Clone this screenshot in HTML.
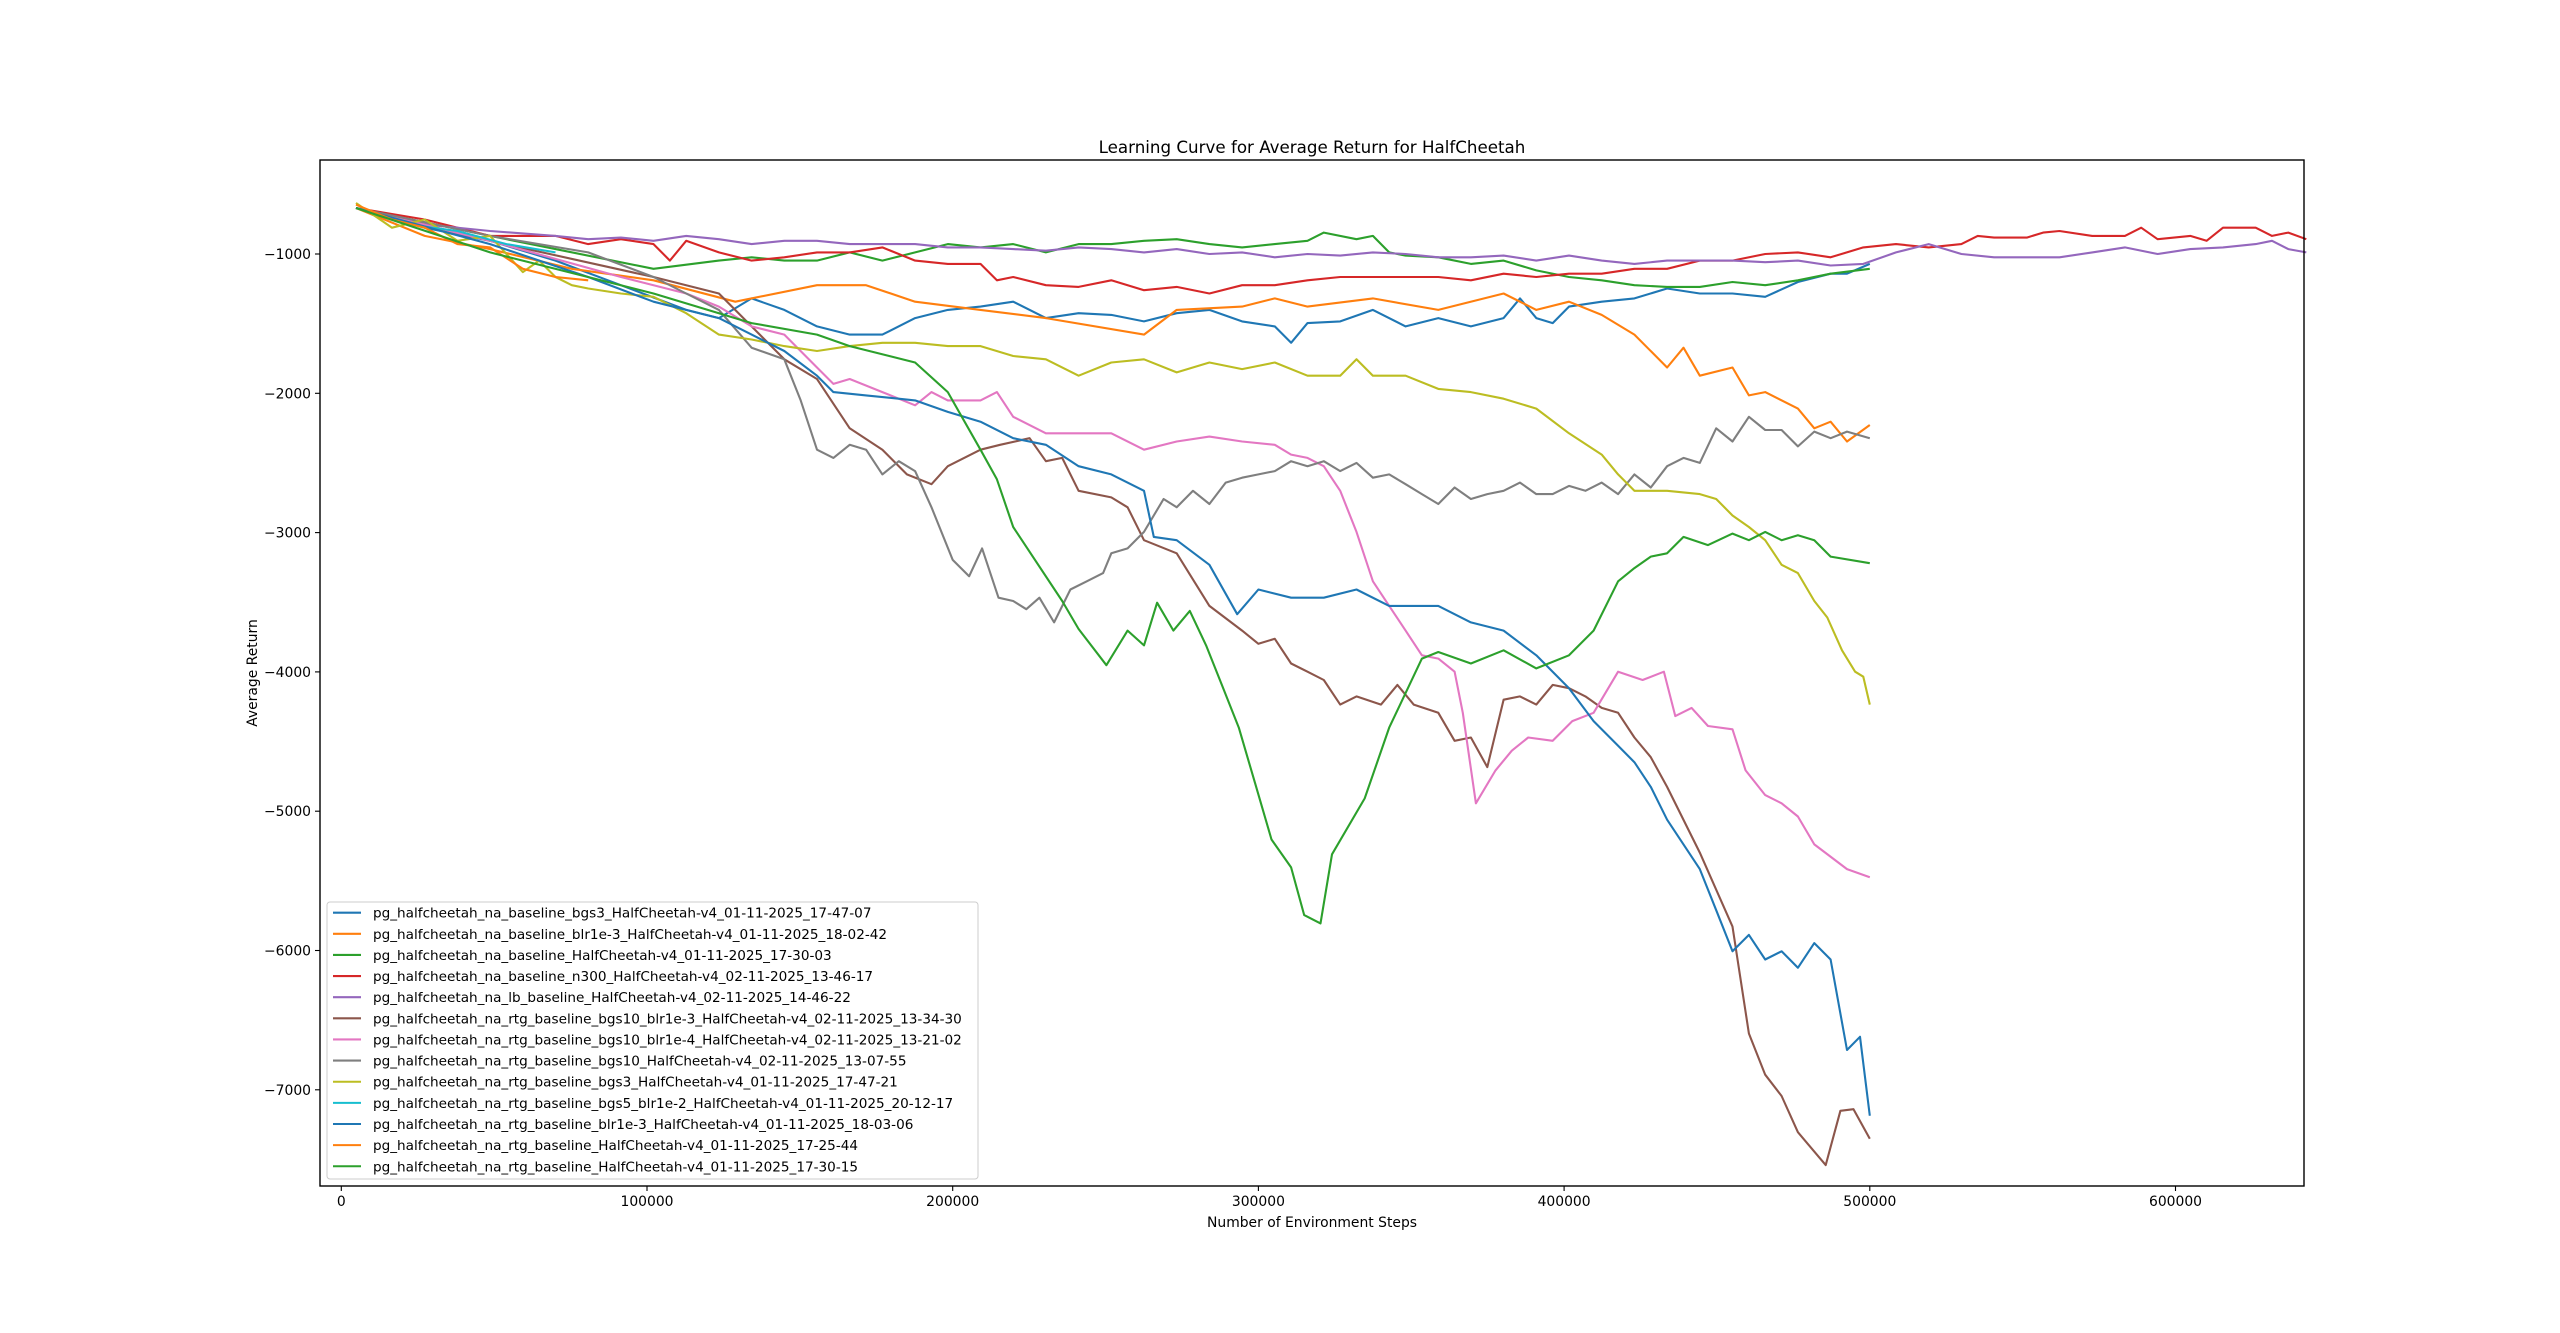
<!DOCTYPE html>
<html><head><meta charset="utf-8">
<style>
html,body{margin:0;padding:0;background:#fff;}
svg{display:block;}
text{font-family:"DejaVu Sans","Liberation Sans",sans-serif;fill:#000;}
</style></head>
<body>
<svg id="s" width="2560" height="1333" xmlns="http://www.w3.org/2000/svg">
<rect width="2560" height="1333" fill="#fff"/>
<g id="lines" fill="none" stroke-width="2.1" stroke-linejoin="round"></g>
<rect x="320" y="160" width="1984" height="1026" fill="none" stroke="#000" stroke-width="1.4"/>
<g id="ticks" stroke="#000" stroke-width="1.1"></g>
<g id="ticklabels" font-size="13.9"></g>
<text x="1312" y="153" font-size="16.7" text-anchor="middle">Learning Curve for Average Return for HalfCheetah</text>
<text x="1312" y="1227" font-size="13.9" text-anchor="middle">Number of Environment Steps</text>
<text transform="translate(257,673) rotate(-90)" font-size="13.9" text-anchor="middle">Average Return</text>
<g id="legend"></g>
</svg>
<script>
var NS="http://www.w3.org/2000/svg";
function X(dx){return 341.3+(dx-209)*1.6348;}
function Y(dy){return 254+(dy-156)*1.6446;}
function el(t,a,p){var e=document.createElementNS(NS,t);for(var k in a)e.setAttribute(k,a[k]);p.appendChild(e);return e;}
var S=[
["#1f77b4",[[218,128],[260,140],[300,148],[340,160],[380,175],[420,190],[440,195],[460,183],[480,190],[500,200],[520,205],[540,205],[560,195],[580,190],[600,188],[620,185],[640,195],[660,192],[680,193],[700,197],[720,192],[740,190],[760,197],[780,200],[790,210],[800,198],[820,197],[840,190],[860,200],[880,195],[900,200],[920,195],[930,183],[940,195],[950,198],[960,188],[980,185],[1000,183],[1020,177],[1040,180],[1060,180],[1080,182],[1100,173],[1120,168],[1130,168],[1144,162]]],
["#ff7f0e",[[218,128],[260,145],[300,153],[350,165],[400,172],[450,185],[500,175],[530,175],[560,185],[600,190],[640,195],[700,205],[720,190],[760,188],[780,183],[800,188],[840,183],[880,190],[920,180],[940,190],[960,185],[980,193],[1000,205],[1020,225],[1030,213],[1040,230],[1060,225],[1070,242],[1080,240],[1100,250],[1110,262],[1120,258],[1130,270],[1144,260]]],
["#2ca02c",[[218,128],[300,145],[400,165],[440,160],[460,158],[480,160],[500,160],[520,155],[540,160],[560,155],[580,150],[600,152],[620,150],[640,155],[660,150],[680,150],[700,148],[720,147],[740,150],[760,152],[780,150],[800,148],[810,143],[830,147],[840,145],[850,155],[860,157],[880,158],[900,162],[920,160],[940,166],[960,170],[980,172],[1000,175],[1020,176],[1040,176],[1060,173],[1080,175],[1100,172],[1120,168],[1144,165]]],
["#d62728",[[218,128],[260,135],[300,145],[340,145],[360,150],[380,147],[400,150],[410,160],[420,148],[440,155],[460,160],[480,158],[500,155],[520,155],[540,152],[560,160],[580,162],[600,162],[610,172],[620,170],[640,175],[660,176],[680,172],[700,178],[720,176],[740,180],[760,175],[780,175],[800,172],[820,170],[840,170],[860,170],[880,170],[900,172],[920,168],[940,170],[960,168],[980,168],[1000,165],[1020,165],[1040,160],[1060,160],[1080,156],[1100,155],[1120,158],[1140,152],[1160,150],[1180,152],[1200,150],[1210,145],[1220,146],[1240,146],[1250,143],[1260,142],[1280,145],[1300,145],[1310,140],[1320,147],[1340,145],[1350,148],[1360,140],[1380,140],[1390,145],[1400,143],[1411,147]]],
["#9467bd",[[218,128],[260,138],[300,142],[340,145],[360,147],[380,146],[400,148],[420,145],[440,147],[460,150],[480,148],[500,148],[520,150],[540,150],[560,150],[580,152],[600,152],[620,153],[640,154],[660,152],[680,153],[700,155],[720,153],[740,156],[760,155],[780,158],[800,156],[820,157],[840,155],[860,156],[880,158],[900,158],[920,157],[940,160],[960,157],[980,160],[1000,162],[1020,160],[1040,160],[1060,160],[1080,161],[1100,160],[1120,163],[1140,162],[1160,155],[1180,150],[1200,156],[1220,158],[1240,158],[1260,158],[1280,155],[1300,152],[1320,156],[1340,153],[1360,152],[1380,150],[1390,148],[1400,153],[1411,155]]],
["#8c564b",[[218,128],[300,148],[400,170],[440,180],[460,200],[480,220],[500,232],[520,262],[540,275],[555,290],[570,296],[580,285],[600,275],[612,272],[630,268],[640,282],[650,280],[660,300],[680,304],[690,310],[700,330],[720,338],[740,370],[760,385],[770,393],[780,390],[790,405],[800,410],[810,415],[820,430],[830,425],[845,430],[855,418],[865,430],[880,435],[890,452],[900,450],[910,468],[920,427],[930,425],[940,430],[950,418],[960,420],[970,425],[980,432],[990,435],[1000,450],[1010,462],[1020,480],[1040,520],[1060,565],[1070,630],[1080,655],[1090,668],[1100,690],[1117,710],[1126,677],[1134,676],[1144,694]]],
["#e377c2",[[218,128],[300,148],[380,170],[420,180],[440,188],[460,200],[480,205],[500,225],[510,235],[520,232],[540,240],[560,248],[570,240],[580,245],[600,245],[610,240],[620,255],[640,265],[660,265],[680,265],[700,275],[720,270],[740,267],[760,270],[780,272],[790,278],[800,280],[810,285],[820,300],[830,325],[840,355],[850,370],[860,385],[870,400],[880,402],[890,410],[895,435],[903,490],[915,470],[925,458],[935,450],[950,452],[962,440],[975,435],[990,410],[1005,415],[1018,410],[1025,437],[1035,432],[1045,443],[1060,445],[1068,470],[1080,485],[1090,490],[1100,498],[1110,515],[1130,530],[1144,535]]],
["#7f7f7f",[[218,128],[300,145],[360,155],[400,170],[420,180],[440,190],[460,213],[480,220],[490,245],[500,275],[510,280],[520,272],[530,275],[540,290],[550,282],[560,288],[570,310],[583,342],[593,352],[601,335],[611,365],[620,367],[628,372],[636,365],[645,380],[655,360],[665,355],[675,350],[680,338],[690,335],[700,325],[712,305],[720,310],[730,300],[740,308],[750,295],[760,292],[770,290],[780,288],[790,282],[800,285],[810,282],[820,288],[830,283],[840,292],[850,290],[860,296],[870,302],[880,308],[890,298],[900,305],[910,302],[920,300],[930,295],[940,302],[950,302],[960,297],[970,300],[980,295],[990,302],[1000,290],[1010,298],[1020,285],[1030,280],[1040,283],[1050,262],[1060,270],[1070,255],[1080,263],[1090,263],[1100,273],[1110,264],[1120,268],[1130,264],[1144,268]]],
["#bcbd22",[[218,125],[240,140],[260,135],[280,148],[300,145],[320,167],[330,160],[340,170],[350,175],[360,177],[380,180],[400,182],[420,192],[440,205],[460,208],[480,212],[500,215],[520,212],[540,210],[560,210],[580,212],[600,212],[620,218],[640,220],[660,230],[680,222],[700,220],[720,228],[740,222],[760,226],[780,222],[800,230],[820,230],[830,220],[840,230],[860,230],[880,238],[900,240],[920,244],[940,250],[960,265],[980,278],[990,290],[1000,300],[1020,300],[1040,302],[1050,305],[1060,315],[1070,322],[1080,330],[1090,345],[1100,350],[1110,367],[1118,377],[1127,397],[1135,410],[1140,413],[1144,430]]],
["#17becf",[[218,128],[250,138],[280,142],[310,150],[340,155]]],
["#1f77b4",[[218,128],[300,150],[360,170],[400,185],[440,195],[460,205],[480,215],[500,230],[510,240],[530,242],[560,245],[580,252],[600,258],[620,268],[640,272],[660,285],[680,290],[700,300],[706,328],[720,330],[740,345],[757,375],[770,360],[790,365],[810,365],[830,360],[850,370],[880,370],[900,380],[920,385],[940,400],[960,420],[975,440],[990,455],[1000,465],[1010,480],[1020,500],[1030,515],[1040,530],[1050,555],[1060,580],[1070,570],[1080,585],[1090,580],[1100,590],[1110,575],[1120,585],[1130,640],[1138,632],[1144,680]]],
["#ff7f0e",[[218,126],[240,135],[260,140],[280,150],[300,152],[320,165],[340,170],[360,172]]],
["#2ca02c",[[218,128],[300,155],[400,180],[460,198],[500,205],[520,212],[560,222],[580,240],[600,275],[610,293],[620,322],[650,367],[660,384],[677,406],[690,385],[700,394],[708,368],[718,385],[728,373],[738,394],[748,419],[758,444],[768,478],[778,512],[790,529],[798,558],[808,563],[815,521],[835,487],[850,444],[870,402],[880,398],[900,405],[920,397],[940,408],[960,400],[975,385],[990,355],[1000,347],[1010,340],[1020,338],[1030,328],[1045,333],[1060,326],[1070,330],[1080,325],[1090,330],[1100,327],[1110,330],[1120,340],[1144,344]]]
];
var G=document.getElementById("lines");
S.forEach(function(s){
 var pts=s[1].map(function(p){return X(p[0]).toFixed(1)+","+Y(p[1]).toFixed(1);}).join(" ");
 el("polyline",{points:pts,stroke:s[0]},G);
});
var T=document.getElementById("ticks"),L=document.getElementById("ticklabels");
for(var i=0;i<=6;i++){
 var x=341.3+i*305.7;
 el("line",{x1:x,y1:1186,x2:x,y2:1191},T);
 var t=el("text",{x:x,y:1206,"text-anchor":"middle"},L);t.textContent=i==0?"0":(i*100000)+"";
}
for(var k=1;k<=7;k++){
 var y=254+(k-1)*139.3;
 el("line",{x1:315,y1:y,x2:320,y2:y},T);
 var t2=el("text",{x:311,y:y+5,"text-anchor":"end"},L);t2.textContent="\u2212"+k+"000";
}
var names=["pg_halfcheetah_na_baseline_bgs3_HalfCheetah-v4_01-11-2025_17-47-07","pg_halfcheetah_na_baseline_blr1e-3_HalfCheetah-v4_01-11-2025_18-02-42","pg_halfcheetah_na_baseline_HalfCheetah-v4_01-11-2025_17-30-03","pg_halfcheetah_na_baseline_n300_HalfCheetah-v4_02-11-2025_13-46-17","pg_halfcheetah_na_lb_baseline_HalfCheetah-v4_02-11-2025_14-46-22","pg_halfcheetah_na_rtg_baseline_bgs10_blr1e-3_HalfCheetah-v4_02-11-2025_13-34-30","pg_halfcheetah_na_rtg_baseline_bgs10_blr1e-4_HalfCheetah-v4_02-11-2025_13-21-02","pg_halfcheetah_na_rtg_baseline_bgs10_HalfCheetah-v4_02-11-2025_13-07-55","pg_halfcheetah_na_rtg_baseline_bgs3_HalfCheetah-v4_01-11-2025_17-47-21","pg_halfcheetah_na_rtg_baseline_bgs5_blr1e-2_HalfCheetah-v4_01-11-2025_20-12-17","pg_halfcheetah_na_rtg_baseline_blr1e-3_HalfCheetah-v4_01-11-2025_18-03-06","pg_halfcheetah_na_rtg_baseline_HalfCheetah-v4_01-11-2025_17-25-44","pg_halfcheetah_na_rtg_baseline_HalfCheetah-v4_01-11-2025_17-30-15"];
var LG=document.getElementById("legend");
el("rect",{x:327,y:902,width:651,height:277,rx:3,fill:"#fff","fill-opacity":0.8,stroke:"#ccc","stroke-width":1},LG);
names.forEach(function(n,i){
 var y=912.7+i*21.13;
 el("line",{x1:333,y1:y,x2:361,y2:y,stroke:S[i][0],"stroke-width":2.1},LG);
 var t=el("text",{x:373,y:y+5,"font-size":"13.6"},LG);t.textContent=n;
});
</script>
</body></html>
